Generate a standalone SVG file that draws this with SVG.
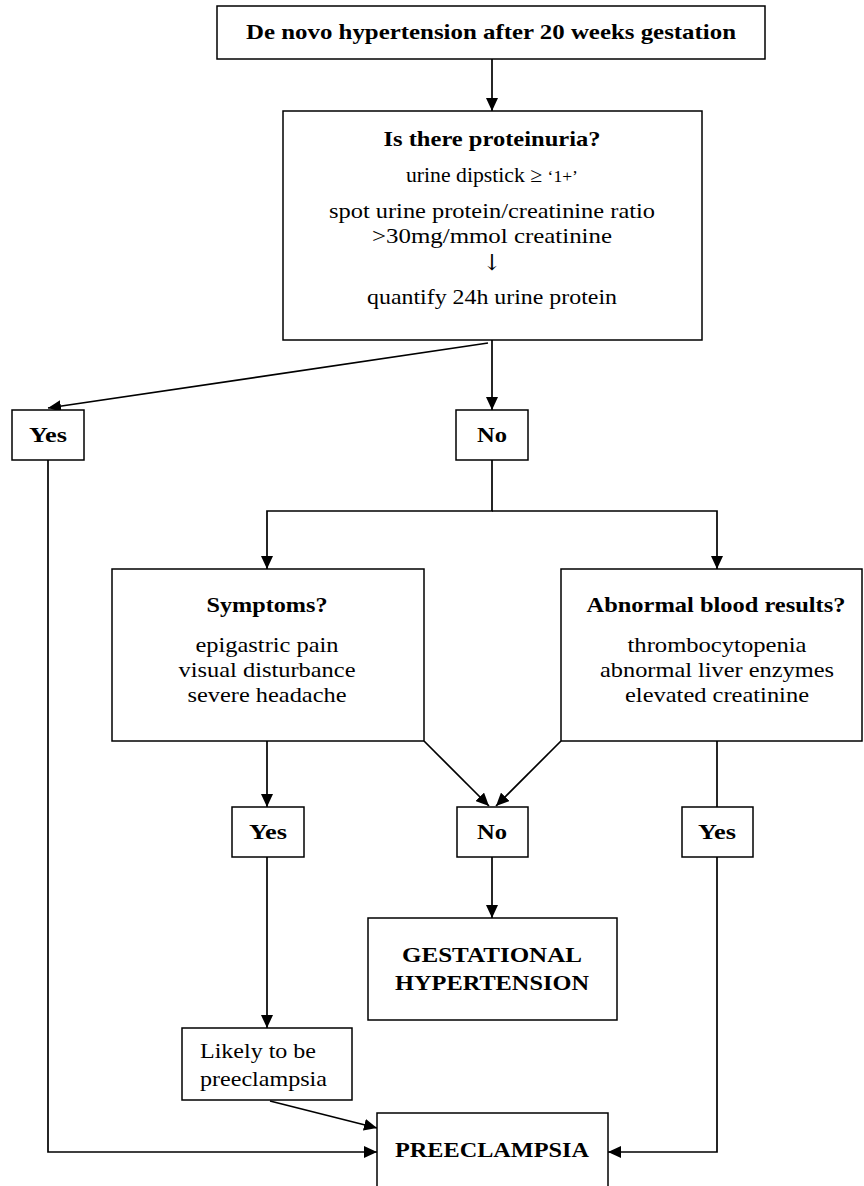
<svg xmlns="http://www.w3.org/2000/svg" width="864" height="1186" viewBox="0 0 864 1186">
<defs>
<style>
.box{fill:#fff;stroke:#000;stroke-width:1.5}
.t{font-family:"Liberation Serif","Times New Roman",serif;font-size:21px;fill:#000;text-anchor:middle}
.l{text-anchor:start}
.b{font-weight:bold}
.ln{fill:none;stroke:#000;stroke-width:1.7}
</style>
<marker id="ah" markerUnits="userSpaceOnUse" markerWidth="14" markerHeight="12" refX="13" refY="6" orient="auto">
<path d="M0,0 L13,6 L0,12 z" fill="#000"/>
</marker>
</defs>
<rect width="864" height="1186" fill="#fff"/>
<g id="connectors">
<line class="ln" x1="492" y1="59" x2="492" y2="111" marker-end="url(#ah)"/>
<line class="ln" x1="488" y1="343" x2="48" y2="408" marker-end="url(#ah)"/>
<line class="ln" x1="492" y1="340" x2="492" y2="410" marker-end="url(#ah)"/>
<polyline class="ln" points="48,460 48,1152 377,1152" marker-end="url(#ah)"/>
<polyline class="ln" points="492,460 492,511 267,511 267,569" marker-end="url(#ah)"/>
<polyline class="ln" points="492,511 717,511 717,569" marker-end="url(#ah)"/>
<line class="ln" x1="267" y1="741" x2="267" y2="807" marker-end="url(#ah)"/>
<line class="ln" x1="424" y1="741" x2="489" y2="806" marker-end="url(#ah)"/>
<line class="ln" x1="561" y1="741" x2="496" y2="806" marker-end="url(#ah)"/>
<line class="ln" x1="717" y1="741" x2="717" y2="807"/>
<line class="ln" x1="267" y1="857" x2="267" y2="1028" marker-end="url(#ah)"/>
<line class="ln" x1="492" y1="857" x2="492" y2="918" marker-end="url(#ah)"/>
<line class="ln" x1="270" y1="1101" x2="377" y2="1128" marker-end="url(#ah)"/>
<polyline class="ln" points="717,857 717,1152 608,1152" marker-end="url(#ah)"/>
</g>
<g id="start">
<rect class="box" x="217" y="6" width="548" height="53"/>
<text class="t b" x="491" y="39" textLength="490" lengthAdjust="spacingAndGlyphs">De novo hypertension after 20 weeks gestation</text>
</g>
<g id="proteinuria">
<rect class="box" x="283" y="111" width="419" height="229"/>
<text class="t b" x="492" y="146" textLength="217" lengthAdjust="spacingAndGlyphs">Is there proteinuria?</text>
<text class="t" x="492" y="182" textLength="172" lengthAdjust="spacingAndGlyphs">urine dipstick ≥ <tspan style="font-size:17px">‘1+’</tspan></text>
<text class="t" x="492" y="218" textLength="326" lengthAdjust="spacingAndGlyphs">spot urine protein/creatinine ratio</text>
<text class="t" x="492" y="243" textLength="240" lengthAdjust="spacingAndGlyphs">&gt;30mg/mmol creatinine</text>
<text class="t" x="492" y="270" style="font-family:'DejaVu Serif',serif;font-size:22px">↓</text>
<text class="t" x="492" y="304" textLength="250" lengthAdjust="spacingAndGlyphs">quantify 24h urine protein</text>
</g>
<g id="yes1">
<rect class="box" x="12" y="410" width="72" height="50"/>
<text class="t b" x="48" y="442" textLength="38" lengthAdjust="spacingAndGlyphs">Yes</text>
</g>
<g id="no1">
<rect class="box" x="456" y="410" width="72" height="50"/>
<text class="t b" x="492" y="442" textLength="30" lengthAdjust="spacingAndGlyphs">No</text>
</g>
<g id="symptoms">
<rect class="box" x="112" y="569" width="312" height="172"/>
<text class="t b" x="267" y="612" textLength="121" lengthAdjust="spacingAndGlyphs">Symptoms?</text>
<text class="t" x="267" y="652" textLength="143" lengthAdjust="spacingAndGlyphs">epigastric pain</text>
<text class="t" x="267" y="677" textLength="177" lengthAdjust="spacingAndGlyphs">visual disturbance</text>
<text class="t" x="267" y="702" textLength="159" lengthAdjust="spacingAndGlyphs">severe headache</text>
</g>
<g id="blood">
<rect class="box" x="561" y="569" width="301" height="172"/>
<text class="t b" x="716" y="612" textLength="259" lengthAdjust="spacingAndGlyphs">Abnormal blood results?</text>
<text class="t" x="717" y="652" textLength="179" lengthAdjust="spacingAndGlyphs">thrombocytopenia</text>
<text class="t" x="717" y="677" textLength="234" lengthAdjust="spacingAndGlyphs">abnormal liver enzymes</text>
<text class="t" x="717" y="702" textLength="184" lengthAdjust="spacingAndGlyphs">elevated creatinine</text>
</g>
<g id="yes2">
<rect class="box" x="232" y="807" width="72" height="50"/>
<text class="t b" x="268" y="839" textLength="38" lengthAdjust="spacingAndGlyphs">Yes</text>
</g>
<g id="no2">
<rect class="box" x="457" y="807" width="71" height="50"/>
<text class="t b" x="492" y="839" textLength="30" lengthAdjust="spacingAndGlyphs">No</text>
</g>
<g id="yes3">
<rect class="box" x="682" y="807" width="71" height="50"/>
<text class="t b" x="717" y="839" textLength="38" lengthAdjust="spacingAndGlyphs">Yes</text>
</g>
<g id="gestational">
<rect class="box" x="368" y="918" width="249" height="102"/>
<text class="t b" x="492" y="962" textLength="180" lengthAdjust="spacingAndGlyphs">GESTATIONAL</text>
<text class="t b" x="492" y="990" textLength="194" lengthAdjust="spacingAndGlyphs">HYPERTENSION</text>
</g>
<g id="likely">
<rect class="box" x="182" y="1028" width="170" height="72"/>
<text class="t l" x="200" y="1058" textLength="116" lengthAdjust="spacingAndGlyphs">Likely to be</text>
<text class="t l" x="200" y="1086" textLength="127" lengthAdjust="spacingAndGlyphs">preeclampsia</text>
</g>
<g id="preeclampsia">
<rect class="box" x="377" y="1113" width="231" height="80"/>
<text class="t b" x="492" y="1157" textLength="194" lengthAdjust="spacingAndGlyphs">PREECLAMPSIA</text>
</g>
</svg>
